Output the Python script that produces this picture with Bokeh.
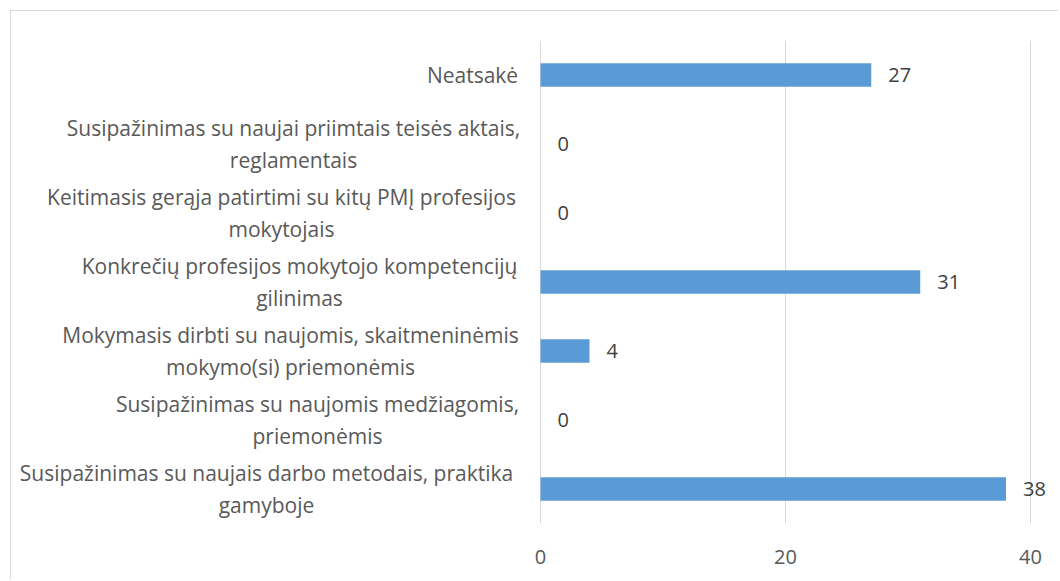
from bokeh.plotting import figure
from bokeh.models import FactorRange, Range1d, FixedTicker, ColumnDataSource
from bokeh.core.properties import value
from bokeh.embed import file_html
from bokeh.resources import INLINE

# ---- data ----
categories = [
    "Neatsakė",
    "Susipažinimas su naujai priimtais teisės aktais,\nreglamentais",
    "Keitimasis gerąja patirtimi su kitų PMĮ profesijos\nmokytojais",
    "Konkrečių profesijos mokytojo kompetencijų\ngilinimas",
    "Mokymasis dirbti su naujomis, skaitmeninėmis\nmokymo(si) priemonėmis",
    "Susipažinimas su naujomis medžiagomis,\npriemonėmis",
    "Susipažinimas su naujais darbo metodais, praktika\ngamyboje",
]
counts = [27, 0, 0, 31, 4, 0, 38]
x_ticks = [0, 20, 40]

# ---- layout constants (screen px offsets of label centres from the zero line) ----
label_center_offsets = [-68, -247, -259, -241, -250, -223, -274]

FONT = "Open Sans"
BAR = "#5b9bd5"
GRID = "#d9d9d9"
TXT = "#595959"
VAL = "#404040"

src = ColumnDataSource(dict(
    cat=categories,
    val=counts,
    lbl=[str(v) for v in counts],
))
lab_src = ColumnDataSource(dict(
    zero=[0] * len(categories),
    cat=categories,
    txt=categories,
    loff=label_center_offsets,
))

p = figure(
    width=1048, height=569,
    y_range=FactorRange(factors=list(reversed(categories))),
    x_range=Range1d(-43.19, 42.37),
    output_backend="svg", toolbar_location=None,
    min_border_left=0, min_border_right=0, min_border_top=29, min_border_bottom=57,
    margin=(10, 0, 0, 10),
    styles={"border-left": "1px solid #d9d9d9", "border-top": "1px solid #d9d9d9"},
)
p.outline_line_color = None
p.background_fill_color = "white"
p.border_fill_color = "white"

p.hbar(y="cat", right="val", left=0, height=0.34, source=src,
       fill_color=BAR, line_color=None)

# value labels
p.text(x="val", y="cat", text="lbl", source=src, x_offset=17,
       text_align="left", text_baseline="middle",
       text_font=value(FONT), text_font_size="20px", text_color=VAL)

# category labels (centered multi-line blocks)
p.text(x="zero", y="cat", text="txt", source=lab_src,
       x_offset="loff", text_align="center", text_baseline="middle",
       text_font=value(FONT), text_font_size="21px", text_color=TXT,
       text_line_height=1.12)

p.yaxis.visible = False
p.ygrid.visible = False

p.xaxis.ticker = FixedTicker(ticks=x_ticks)
p.xgrid.ticker = FixedTicker(ticks=x_ticks)
p.xgrid.grid_line_color = GRID
p.xgrid.grid_line_width = 1
p.xaxis.axis_line_color = None
p.xaxis.major_tick_line_color = None
p.xaxis.minor_tick_line_color = None
p.xaxis.major_label_text_font = FONT
p.xaxis.major_label_text_font_size = "20px"
p.xaxis.major_label_text_color = TXT
p.xaxis.major_label_standoff = 20

open("out.html", "w").write(file_html(p, INLINE))
